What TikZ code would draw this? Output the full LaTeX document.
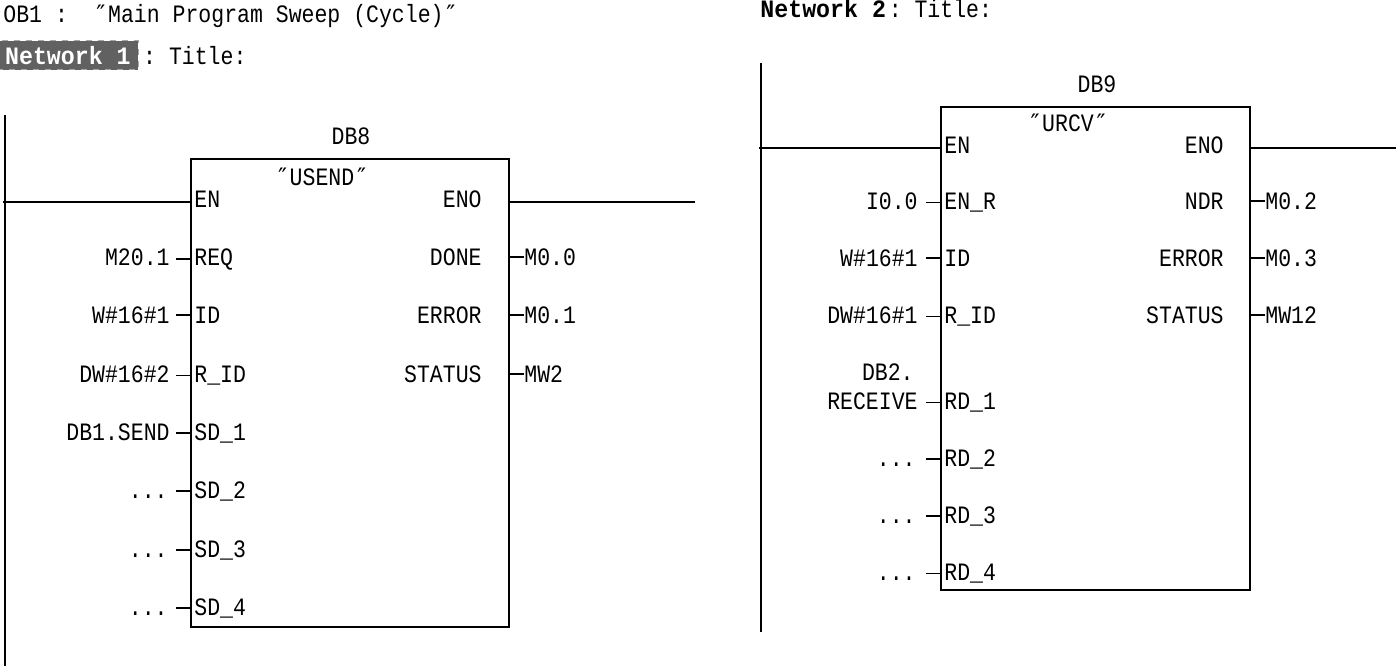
\documentclass[tikz,border=0pt]{standalone}
\usepackage{fontspec}
\setmainfont{Liberation Mono}[FakeStretch=0.86]
\newfontfamily\nwfont{Liberation Mono}[FakeStretch=0.93]
\newfontfamily\qfont{DejaVu Sans Mono}
\newcommand{\dq}{{\qfont\fontsize{12}{12}\selectfont ″}}
\begin{document}
\begin{tikzpicture}[x=0.5pt,y=-0.5pt,
  every node/.style={inner sep=0pt, font=\fontsize{12.5}{14}\selectfont},
  wire/.style={line width=0.9pt},
  blk/.style={draw, line width=0.9pt, anchor=north west, inner sep=0pt},
  lblE/.style={anchor=mid east},
  lblW/.style={anchor=mid west},
  nwlbl/.style={font=\fontsize{12.5}{14}\nwfont\bfseries}]
\useasboundingbox (0,0) rectangle (1396,666);

% ---------- headers ----------
\node[lblW] (ob1) at (3,17) {OB1~:~~\dq Main Program Sweep (Cycle)\dq};
\node[lblW, nwlbl, fill=black!62, draw=black!35, dashed, text=white,
      minimum height=14.5pt, minimum width=70.5pt, inner xsep=1pt, align=left] (nw1) at (-3,59) {Network 1};
\node[anchor=base west] (tt1) at ([xshift=2pt]nw1.base east) {:~Title:};
\node[lblW, nwlbl] (nw2) at (760,12) {Network 2};
\node[anchor=base west] (tt2) at ([xshift=1pt]nw2.base east) {:~Title:};

% ---------- network 1 ----------
\coordinate (rail1top) at (5,115);
\coordinate (rail1bot) at (5,666);
\draw[wire] (rail1top) -- (rail1bot);
\node[blk, minimum width=159pt, minimum height=234pt] (b1) at (190,158) {};
\node (db8) at (351,136) {DB8};
\node (usend) at (322,177) {\dq USEND\dq};

\node[lblW] (b1en) at (194,202) {EN};
\coordinate (rail1en) at (3,202);
\draw[wire] (rail1en) -- (rail1en -| b1.west);
\node[lblE] (b1eno) at (482,202) {ENO};
\coordinate (b1enoend) at (695,202);
\draw[wire] (b1enoend -| b1.east) -- (b1enoend);

% inputs
\node[lblW] (p1a) at (194,260) {REQ};   \node[lblE] (v1a) at (170,260) {M20.1};
\node[lblW] (p1b) at (194,318) {ID};    \node[lblE] (v1b) at (170,318) {W\#16\#1};
\node[lblW] (p1c) at (194,377) {R\_ID}; \node[lblE] (v1c) at (170,377) {DW\#16\#2};
\node[lblW] (p1d) at (194,435) {SD\_1}; \node[lblE] (v1d) at (170,435) {DB1.SEND};
\node[lblW] (p1e) at (194,493) {SD\_2}; \node[lblE] (v1e) at (168,493) {...};
\node[lblW] (p1f) at (194,552) {SD\_3}; \node[lblE] (v1f) at (168,552) {...};
\node[lblW] (p1g) at (194,610) {SD\_4}; \node[lblE] (v1g) at (168,610) {...};
\foreach \n in {p1a,p1b,p1c,p1d,p1e,p1f,p1g}
  \draw[wire] (b1.west |- \n.west) -- ++(-14,0);

% outputs
\node[lblE] (q1a) at (482,260) {DONE};   \node[lblW] (o1a) at (524,260) {M0.0};
\node[lblE] (q1b) at (482,318) {ERROR};  \node[lblW] (o1b) at (524,318) {M0.1};
\node[lblE] (q1c) at (482,377) {STATUS}; \node[lblW] (o1c) at (524,377) {MW2};
\foreach \n in {o1a,o1b,o1c}
  \draw[wire] (b1.east |- \n.west) -- (\n.west);

% ---------- network 2 ----------
\coordinate (rail2top) at (761,63);
\coordinate (rail2bot) at (761,632);
\draw[wire] (rail2top) -- (rail2bot);
\node[blk, minimum width=154.5pt, minimum height=241.5pt] (b2) at (940,106) {};
\node (db9) at (1097,84) {DB9};
\node (urcv) at (1068,123) {\dq URCV\dq};

\node[lblW] (b2en) at (944,148) {EN};
\coordinate (rail2en) at (759,148);
\draw[wire] (rail2en) -- (rail2en -| b2.west);
\node[lblE] (b2eno) at (1224,148) {ENO};
\coordinate (b2enoend) at (1396,148);
\draw[wire] (b2enoend -| b2.east) -- (b2enoend);

% inputs
\node[lblW] (p2a) at (944,204) {EN\_R}; \node[lblE] (v2a) at (918,204) {I0.0};
\node[lblW] (p2b) at (944,261) {ID};    \node[lblE] (v2b) at (918,261) {W\#16\#1};
\node[lblW] (p2c) at (944,318) {R\_ID}; \node[lblE] (v2c) at (918,318) {DW\#16\#1};
\node[lblW] (p2d) at (944,404) {RD\_1}; \node[lblE] (v2d) at (918,404) {RECEIVE};
\node[lblE] (v2d0) at (914,375) {DB2.};
\node[lblW] (p2e) at (944,461) {RD\_2}; \node[lblE] (v2e) at (916,461) {...};
\node[lblW] (p2f) at (944,518) {RD\_3}; \node[lblE] (v2f) at (916,518) {...};
\node[lblW] (p2g) at (944,575) {RD\_4}; \node[lblE] (v2g) at (916,575) {...};
\foreach \n in {p2a,p2b,p2c,p2d,p2e,p2f,p2g}
  \draw[wire] (b2.west |- \n.west) -- ++(-14,0);

% outputs
\node[lblE] (q2a) at (1224,204) {NDR};    \node[lblW] (o2a) at (1265,204) {M0.2};
\node[lblE] (q2b) at (1224,261) {ERROR};  \node[lblW] (o2b) at (1265,261) {M0.3};
\node[lblE] (q2c) at (1224,318) {STATUS}; \node[lblW] (o2c) at (1265,318) {MW12};
\foreach \n in {o2a,o2b,o2c}
  \draw[wire] (b2.east |- \n.west) -- (\n.west);
\end{tikzpicture}
\end{document}
